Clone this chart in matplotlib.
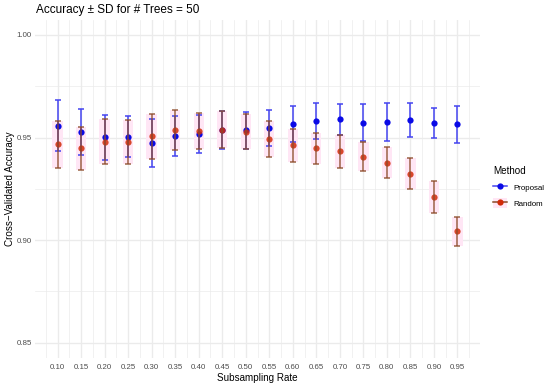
import numpy as np
import matplotlib as mpl
mpl.use('Agg')
import matplotlib.pyplot as plt
from matplotlib.lines import Line2D
from matplotlib.patches import Patch

plt.rcParams['font.family'] = ['Liberation Sans', 'DejaVu Sans']

######### data #################################
rates = [0.10, 0.15, 0.20, 0.25, 0.30, 0.35, 0.40, 0.45, 0.50,
         0.55, 0.60, 0.65, 0.70, 0.75, 0.80, 0.85, 0.90, 0.95]
prop_mean = [0.9558, 0.9526, 0.9501, 0.9504, 0.9474, 0.9508, 0.9519, 0.9537, 0.9535,
             0.9548, 0.9565, 0.9582, 0.9589, 0.9573, 0.9576, 0.9586, 0.9571, 0.9565]
prop_sd = [0.0125, 0.0113, 0.0110, 0.0100, 0.0117, 0.0097, 0.0093, 0.0093, 0.0090,
           0.0088, 0.0089, 0.0088, 0.0076, 0.0090, 0.0093, 0.0084, 0.0072, 0.0090]
rand_mean = [0.9467, 0.9448, 0.9479, 0.9479, 0.9506, 0.9536, 0.9532, 0.9539, 0.9529,
             0.9493, 0.9462, 0.9448, 0.9433, 0.9407, 0.9378, 0.9324, 0.9209, 0.9042]
rand_sd = [0.0115, 0.0105, 0.0110, 0.0108, 0.0110, 0.0098, 0.0088, 0.0091, 0.0087,
           0.0089, 0.0081, 0.0075, 0.0080, 0.0070, 0.0075, 0.0075, 0.0079, 0.0071]
y_breaks = [0.85, 0.90, 0.95, 1.00]

# colours
blue_pt = '#0a0ae6'
blue_bar = '#4444f0'
red_pt = '#d22a08'
red_bar = '#8c4a28'
pink = '#ffe6f5'
grid_col = '#ebebeb'
tick_col = '#4d4d4d'

fig = plt.figure(figsize=(5.5, 3.85), dpi=100)
ax = fig.add_axes([35/550, 1-358/385, 445/550, (358-19.6)/385])

x = np.array(rates)
pm, ps = np.array(prop_mean), np.array(prop_sd)
rm, rs = np.array(rand_mean), np.array(rand_sd)

# pink band behind the Random points
ax.bar(x, 2*rs, bottom=rm-rs, width=0.022, color=pink, edgecolor='none', zorder=2)

# Proposal
ax.errorbar(x, pm, yerr=ps, fmt='none', ecolor=blue_bar, elinewidth=1.1,
            capsize=2.2, capthick=1.1, zorder=3)
ax.plot(x, pm, 'o', color=blue_pt, ms=4.5, mec='none', zorder=4)

# Random
ax.plot(x, rm, 'o', color=red_pt, ms=4.5, mec='none', alpha=0.85, zorder=5)
ax.errorbar(x, rm, yerr=rs, fmt='none', ecolor=red_bar, elinewidth=1.1,
            capsize=2.2, capthick=1.1, alpha=0.85, zorder=6)

ax.set_xlim(0.052, 0.998)
ax.set_ylim(0.8425, 1.0075)
ax.set_xticks(rates)
ax.set_xticklabels(['%.2f' % r for r in rates])
ax.set_xticks(np.arange(0.075, 0.99, 0.05), minor=True)
ax.set_yticks(y_breaks)
ax.set_yticklabels(['%.2f' % v for v in y_breaks])
ax.set_yticks([0.875, 0.925, 0.975], minor=True)
ax.grid(True, which='major', color=grid_col, lw=0.95, zorder=0)
ax.grid(True, which='minor', color=grid_col, lw=0.5, zorder=0)
ax.set_axisbelow(True)
for s in ax.spines.values():
    s.set_visible(False)
ax.tick_params(which='both', length=0, labelsize=5.7, labelcolor=tick_col)
ax.tick_params(axis='x', pad=4.2)
ax.tick_params(axis='y', pad=2.2)

fig.text(36/550, 1-9.5/385, u'Accuracy \u00b1 SD for # Trees = 50', fontsize=8.5,
         ha='left', va='center')
fig.text(257.5/550, 1-378/385, 'Subsampling Rate', fontsize=7.1, ha='center', va='center')
fig.text(10/550, 1-189/385, u'Cross\u2212Validated Accuracy', fontsize=7.1,
         ha='center', va='center', rotation=90)

# legend
h_prop = Line2D([], [], color=blue_bar, lw=1.1, marker='o', ms=4.5,
                mfc=blue_pt, mec='none')
h_rand = (Patch(facecolor=pink, edgecolor='none'),
          Line2D([], [], color=red_bar, lw=1.1, marker='o', ms=4.5, mfc=red_pt, mec='none'))
leg = fig.legend([h_prop, h_rand], ['Proposal', 'Random'], title='Method',
                 loc='upper left', bbox_to_anchor=(493/550, 1-166/385),
                 frameon=False, fontsize=5.7, title_fontsize=7.1,
                 handlelength=1.8, handleheight=1.6, handletextpad=0.8,
                 labelspacing=0.75, borderpad=0, borderaxespad=0)
leg._legend_box.align = 'left'

fig.savefig('out.png', dpi=100)
